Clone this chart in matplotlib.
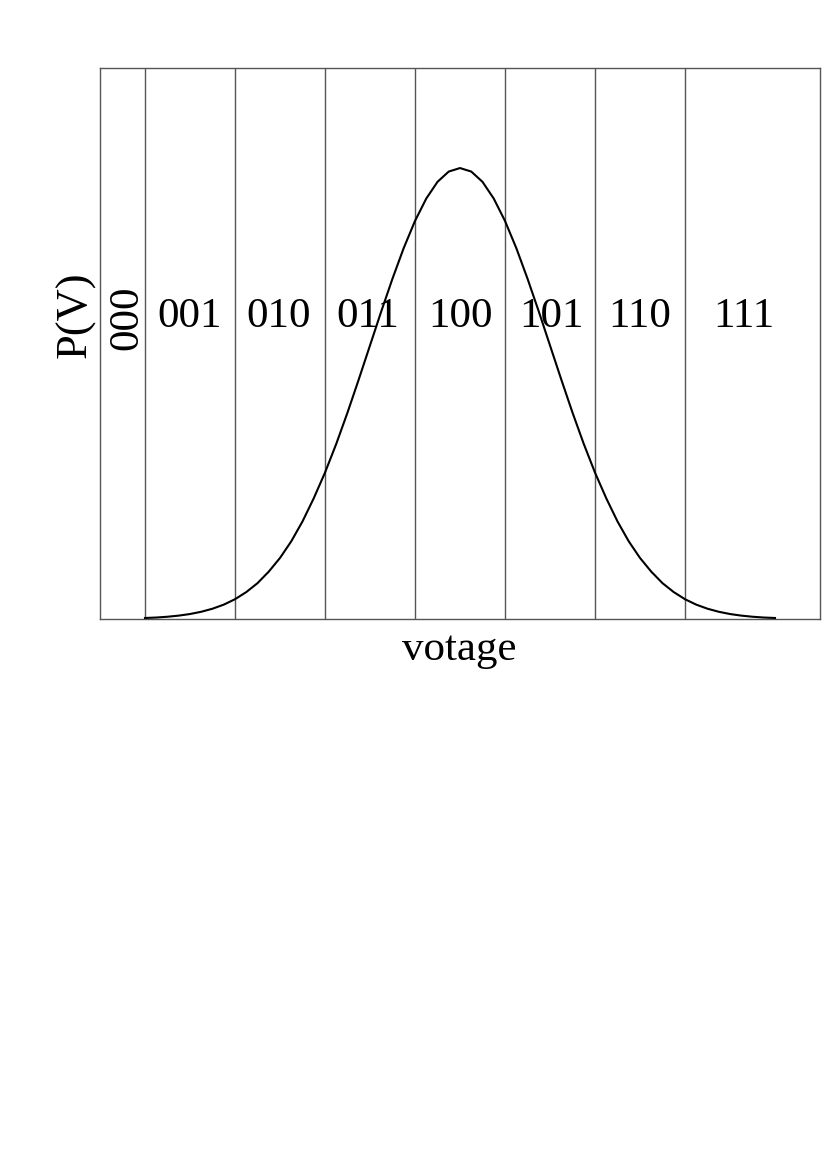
import matplotlib
matplotlib.use("Agg")
import matplotlib.pyplot as plt
from matplotlib.transforms import blended_transform_factory

plt.rcParams['font.family'] = ['Liberation Serif', 'DejaVu Serif']

# --- data ---
voltage = [0.5, 0.625, 0.75, 0.875, 1.0, 1.125, 1.25, 1.375, 1.5, 1.625, 1.75, 1.875,
           2.0, 2.125, 2.25, 2.375, 2.5, 2.625, 2.75, 2.875, 3.0, 3.125, 3.25, 3.375,
           3.5, 3.625, 3.75, 3.875, 4.0, 4.125, 4.25, 4.375, 4.5, 4.625, 4.75, 4.875,
           5.0, 5.125, 5.25, 5.375, 5.5, 5.625, 5.75, 5.875, 6.0, 6.125, 6.25, 6.375,
           6.5, 6.625, 6.75, 6.875, 7.0, 7.125, 7.25, 7.375, 7.5]
density = [0.0009, 0.0013, 0.0020, 0.0030, 0.0044, 0.0064, 0.0091, 0.0127, 0.0175,
           0.0238, 0.0317, 0.0419, 0.0540, 0.0687, 0.0863, 0.1068, 0.1295, 0.1549,
           0.1826, 0.2119, 0.2420, 0.2721, 0.3011, 0.3282, 0.3521, 0.3719, 0.3867,
           0.3958, 0.3989, 0.3958, 0.3867, 0.3719, 0.3521, 0.3282, 0.3011, 0.2721,
           0.2420, 0.2119, 0.1826, 0.1549, 0.1295, 0.1068, 0.0863, 0.0687, 0.0540,
           0.0419, 0.0317, 0.0238, 0.0175, 0.0127, 0.0091, 0.0064, 0.0044, 0.0030,
           0.0020, 0.0013, 0.0009]
boundaries = [0.5, 1.5, 2.5, 3.5, 4.5, 5.5, 6.5]
codes = ['001', '010', '011', '100', '101', '110', '111']
code_x = [1.0, 1.98, 2.98, 4.0, 5.02, 6.0, 7.15]
first_code = '000'
first_code_x = 0.3

fig = plt.figure(figsize=(8.27, 11.68), dpi=100)
ax = fig.add_axes([100/827, 549/1168, 720/827, 551/1168])

ax.set_xlim(0, 8)
ax.set_ylim(0, 0.4874)

for b in boundaries:
    ax.axvline(b, color='#555555', lw=1.0, zorder=1)

ax.plot(voltage, density, color='black', lw=1.5, zorder=3)

trans = blended_transform_factory(ax.transData, ax.transAxes)
for cx, c in zip(code_x, codes):
    ax.text(cx, 0.530, c, transform=trans, ha='center', va='baseline', fontsize=31)
ax.text(first_code_x, 0.546, first_code, transform=trans, ha='center', va='center',
        rotation=90, fontsize=31)

ax.set_xticks([])
ax.set_yticks([])
for s in ax.spines.values():
    s.set_color('#555555')
    s.set_linewidth(1.0)

ax.set_xlabel('votage', fontsize=31)
ax.xaxis.set_label_coords(0.4986, -(660 - 619) / 551)
ax.xaxis.label.set_verticalalignment('baseline')

ax.set_ylabel('P(V)', fontsize=32)
ax.yaxis.set_label_coords((75.5 - 100) / 720, (619 - 315) / 551)
ax.yaxis.label.set_verticalalignment('center')
ax.yaxis.label.set_horizontalalignment('center')

fig.savefig('out.png', dpi=100)
